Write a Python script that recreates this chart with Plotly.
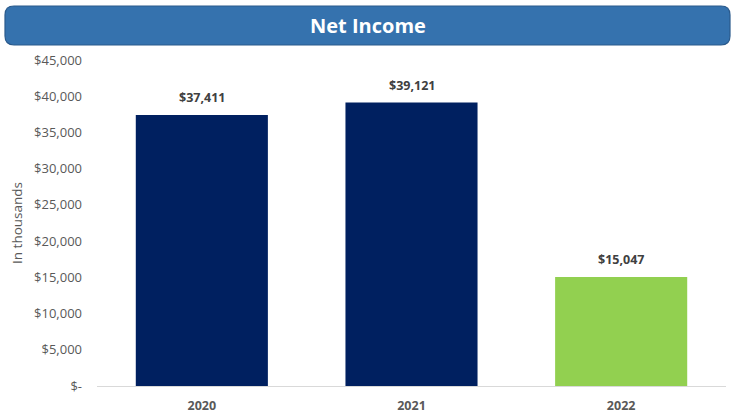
import plotly.graph_objects as go

years = ["2020", "2021", "2022"]
net_income = [37411, 39121, 15047]
bar_colors = ["#002060", "#002060", "#92D050"]
tick_values = [0, 5000, 10000, 15000, 20000, 25000, 30000, 35000, 40000, 45000]
tick_labels = ["$-", "$5,000", "$10,000", "$15,000", "$20,000", "$25,000",
               "$30,000", "$35,000", "$40,000", "$45,000"]

W, H = 736, 417
L, R, T, B = 97, 10, 60, 31
pw, ph = W - L - R, H - T - B

def px_x(x):
    return (x - L) / pw

def px_y(y):
    return (H - B - y) / ph

fig = go.Figure()
fig.add_trace(go.Bar(
    x=years, y=net_income,
    marker=dict(color=bar_colors, line=dict(width=0)),
    width=0.63,
))

for i, v in enumerate(net_income):
    fig.add_annotation(x=i, y=v, xref="x", yref="y",
                       text="<b>${:,}</b>".format(v), showarrow=False,
                       yanchor="bottom", yshift=7,
                       font=dict(family="Open Sans", size=12.5, color="#404040"))

# rounded banner
x0, x1 = px_x(5), px_x(730)
y0, y1 = px_y(45), px_y(6)
rx, ry = 9 / pw, 9 / ph
path = (f"M {x0+rx},{y0} L {x1-rx},{y0} Q {x1},{y0} {x1},{y0+ry} "
        f"L {x1},{y1-ry} Q {x1},{y1} {x1-rx},{y1} L {x0+rx},{y1} "
        f"Q {x0},{y1} {x0},{y1-ry} L {x0},{y0+ry} Q {x0},{y0} {x0+rx},{y0} Z")
fig.add_shape(type="path", path=path, xref="paper", yref="paper",
              fillcolor="#3572AE", line=dict(color="#2A5A8C", width=1.2))
fig.add_annotation(text="<b>Net Income</b>", xref="paper", yref="paper",
                   x=(x0 + x1) / 2, y=(y0 + y1) / 2, showarrow=False,
                   font=dict(family="Open Sans", size=20, color="white"),
                   xanchor="center", yanchor="middle")

fig.update_layout(
    width=W, height=H,
    margin=dict(l=L, r=R, t=T, b=B, autoexpand=False),
    paper_bgcolor="white", plot_bgcolor="white",
    showlegend=False,
    bargap=0.37,
    xaxis=dict(type="category", range=[-0.5, 2.5], automargin=False,
               showgrid=False, showline=True, linecolor="#D9D9D9", linewidth=1,
               ticks="", ticklabelstandoff=8,
               tickfont=dict(family="Open Sans", size=12.5, color="#595959", weight="bold"),
               zeroline=False),
    yaxis=dict(range=[0, 45000], tickvals=tick_values, ticktext=tick_labels,
               automargin=False,
               showgrid=False, zeroline=False, showline=False, ticks="",
               ticklabelstandoff=14,
               tickfont=dict(family="Open Sans", size=13, color="#595959"),
               title=dict(text="In thousands", font=dict(family="Open Sans", size=13.5, color="#595959"),
                          standoff=8)),
)

fig.write_html("out.html")
